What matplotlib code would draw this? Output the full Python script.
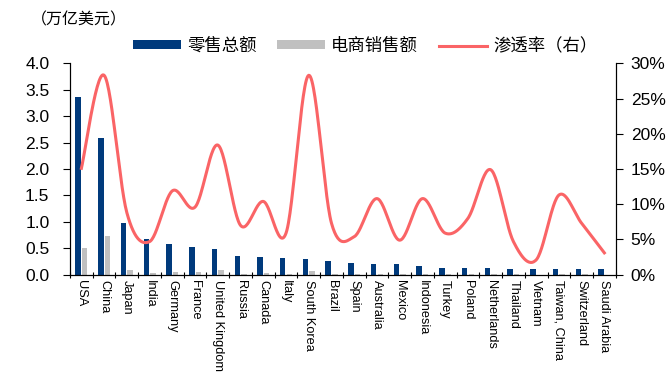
import numpy as np
import matplotlib.pyplot as plt
from matplotlib.ticker import FuncFormatter, MultipleLocator

plt.rcParams['font.family'] = ['Liberation Sans', 'Noto Sans CJK SC', 'DejaVu Sans']

countries = ['USA', 'China', 'Japan', 'India', 'Germany', 'France', 'United Kingdom',
             'Russia', 'Canada', 'Italy', 'South Korea', 'Brazil', 'Spain', 'Australia',
             'Mexico', 'Indonesia', 'Turkey', 'Poland', 'Netherlands', 'Thailand',
             'Vietnam', 'Taiwan, China', 'Switzerland', 'Saudi Arabia']
# 零售总额 (万亿美元)
retail = [3.37, 2.59, 0.98, 0.67, 0.58, 0.52, 0.48, 0.35, 0.33, 0.32, 0.29, 0.25,
          0.23, 0.20, 0.20, 0.16, 0.12, 0.12, 0.12, 0.11, 0.10, 0.10, 0.10, 0.10]
# 电商销售额 (万亿美元)
ecommerce = [0.50, 0.73, 0.08, 0.03, 0.06, 0.05, 0.08, 0.02, 0.03, 0.02, 0.07, 0.02,
             0.01, 0.02, 0.01, 0.02, 0.01, 0.01, 0.02, 0.005, 0.002, 0.01, 0.01, 0.003]
# 渗透率 (%)
penetration = [15.1, 28.3, 8.8, 4.7, 11.9, 9.6, 18.4, 7.0, 10.4, 5.9, 28.3, 7.3,
               5.4, 10.8, 4.9, 10.8, 5.9, 8.0, 14.9, 4.7, 2.1, 11.3, 7.3, 3.1]

navy = '#003A7C'
grey = '#C0C0C0'
red = '#FA6466'
cjk = ['Noto Sans CJK SC']


def smooth(x, y, n=30):
    # catmull-rom like curve through the points (excel "smoothed line")
    x = np.asarray(x, float); y = np.asarray(y, float)
    px = np.concatenate([[x[0]], x, [x[-1]]])
    py = np.concatenate([[y[0]], y, [y[-1]]])
    xs, ys = [], []
    t = np.linspace(0, 1, n)
    for i in range(1, len(px) - 2):
        p0, p1, p2, p3 = (np.array([px[j], py[j]]) for j in range(i - 1, i + 3))
        c1 = p1 + (p2 - p0) / 6
        c2 = p2 - (p3 - p1) / 6
        pts = ((1 - t) ** 3)[:, None] * p1 + (3 * (1 - t) ** 2 * t)[:, None] * c1 \
            + (3 * (1 - t) * t ** 2)[:, None] * c2 + (t ** 3)[:, None] * p2
        xs.append(pts[:, 0]); ys.append(pts[:, 1])
    return np.concatenate(xs), np.concatenate(ys)


fig = plt.figure(figsize=(6.7, 3.74), dpi=100)
ax = fig.add_axes([0.1045, 0.2655, 0.8145, 0.5652])
ax2 = ax.twinx()

x = np.arange(len(countries))
w = 0.24
ax.bar(x - 0.145, retail, w, color=navy, label='零售总额', zorder=2)
ax.bar(x + 0.145, ecommerce, w, color=grey, label='电商销售额', zorder=2)

sx, sy = smooth(x, penetration)
ax2.plot(sx, np.array(sy) / 100, color=red, lw=2.2, label='渗透率（右）')

ax.set_xlim(-0.5, len(countries) - 0.5)
ax.set_ylim(0, 4.0)
ax.yaxis.set_major_locator(MultipleLocator(0.5))
ax.yaxis.set_major_formatter(FuncFormatter(lambda v, p: f'{v:.1f}'))
ax2.set_ylim(0, 0.30)
ax2.yaxis.set_major_locator(MultipleLocator(0.05))
ax2.yaxis.set_major_formatter(FuncFormatter(lambda v, p: f'{v*100:.0f}%'))

ax.set_xticks(x)
ax.set_xticklabels(countries, rotation=270, fontsize=9.2, va='top', ha='center')
ax.set_xticks(np.arange(len(countries) + 1) - 0.5, minor=True)
ax.tick_params(axis='x', which='major', length=0, pad=4)
ax.tick_params(axis='x', which='minor', length=4, direction='inout', width=0.8)
ax.tick_params(axis='y', length=4.8, width=0.8, labelsize=12.5, pad=10)
ax2.tick_params(axis='y', length=4.8, width=0.8, labelsize=12.5, pad=6)

for a in (ax, ax2):
    a.spines['top'].set_visible(False)
    for s in ('left', 'right', 'bottom'):
        a.spines[s].set_linewidth(0.8)

fig.text(0.046, 0.947, '（万亿美元）', fontsize=11.5, family=cjk, va='center')

h1, l1 = ax.get_legend_handles_labels()
h2, l2 = ax2.get_legend_handles_labels()
fig.legend(h1 + h2, l1 + l2, ncol=3, loc='center', bbox_to_anchor=(0.545, 0.877),
           frameon=False, handlelength=2.76, handleheight=0.45,
           columnspacing=1.2, handletextpad=0.35, prop={'family': cjk, 'size': 12.5})

fig.savefig('out.png', dpi=100)
